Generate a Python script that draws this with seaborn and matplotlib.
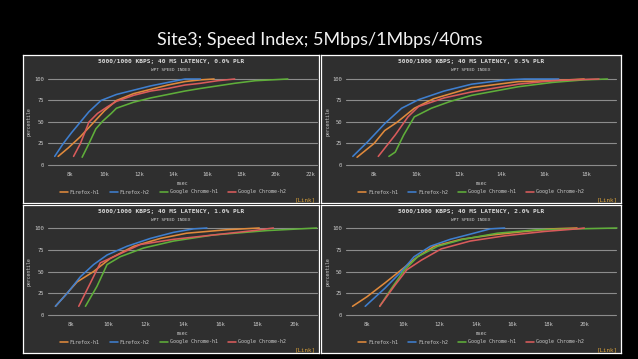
import numpy as np
import pandas as pd
import matplotlib
matplotlib.use("Agg")
import matplotlib.pyplot as plt
import seaborn as sns

W, H = 638, 359

# ---------------- data ----------------
main_title = "Site3; Speed Index; 5Mbps/1Mbps/40ms"
panel_titles = [
    "5000/1000 KBPS; 40 MS LATENCY, 0.0% PLR",
    "5000/1000 KBPS; 40 MS LATENCY, 0.5% PLR",
    "5000/1000 KBPS; 40 MS LATENCY, 1.0% PLR",
    "5000/1000 KBPS; 40 MS LATENCY, 2.0% PLR",
]
panel_subtitle = "WPT SPEED INDEX"
series_names = ["Firefox-h1", "Firefox-h2", "Google Chrome-h1", "Google Chrome-h2"]
series_colors = ["#e08a3c", "#3f7fcf", "#5fae3a", "#d95b5b"]
y_ticks = [0, 25, 50, 75, 100]
x_ticks_p1 = [8000, 10000, 12000, 14000, 16000, 18000, 20000, 22000]
x_labels_p1 = ["8k", "10k", "12k", "14k", "16k", "18k", "20k", "22k"]
x_ticks_p2 = [8000, 10000, 12000, 14000, 16000, 18000]
x_labels_p2 = ["8k", "10k", "12k", "14k", "16k", "18k"]
x_ticks_p3 = [8000, 10000, 12000, 14000, 16000, 18000, 20000]
x_labels_p3 = ["8k", "10k", "12k", "14k", "16k", "18k", "20k"]
x_ticks_p4 = [8000, 10000, 12000, 14000, 16000, 18000, 20000]
x_labels_p4 = ["8k", "10k", "12k", "14k", "16k", "18k", "20k"]

# Panel 1: 0.0% PLR
p1_ff_h1_x = [7300, 7900, 8600, 9300, 10000, 10700, 11700, 12700, 13700, 14700, 15600, 16400]
p1_ff_h1_y = [10, 20, 33, 48, 63, 75, 83, 88, 93, 97, 99, 100]
p1_ff_h2_x = [7100, 7600, 8100, 8600, 9100, 9800, 10700, 11700, 12700, 13700, 14700, 15600]
p1_ff_h2_y = [10, 25, 38, 50, 62, 75, 82, 87, 92, 96, 100, 100]
p1_gc_h1_x = [8700, 9100, 9500, 9900, 10400, 10700, 11700, 12700, 13700, 14700, 15600, 16600, 17600, 18800, 20700]
p1_gc_h1_y = [9, 25, 42, 51, 60, 66, 73, 78, 82, 86, 89, 92, 95, 98, 100]
p1_gc_h2_x = [8200, 8600, 9100, 9600, 10200, 10700, 11700, 12700, 13700, 14700, 15600, 16600, 17600]
p1_gc_h2_y = [10, 25, 50, 60, 68, 74, 81, 86, 89, 93, 95, 98, 100]

# Panel 2: 0.5% PLR
p2_ff_h1_x = [7200, 8000, 8500, 9100, 9900, 10800, 12600, 14800, 16400, 17900]
p2_ff_h1_y = [9, 25, 40, 50, 66, 77, 90, 97, 98, 100]
p2_ff_h2_x = [7000, 7700, 8500, 9300, 10100, 11300, 12600, 14200, 15100, 16700]
p2_ff_h2_y = [10, 27, 48, 66, 76, 86, 94, 99, 100, 100]
p2_gc_h1_x = [8700, 9000, 9400, 9900, 10700, 11600, 12600, 14800, 16400, 17900, 19000]
p2_gc_h1_y = [10, 15, 35, 56, 66, 74, 81, 91, 96, 99, 100]
p2_gc_h2_x = [8200, 9000, 9600, 10100, 11300, 12600, 14800, 16400, 17900, 18600]
p2_gc_h2_y = [10, 35, 56, 68, 78, 85, 94, 98, 99.5, 100]

# Panel 3: 1.0% PLR
p3_ff_h1_x = [7160, 8320, 9210, 10100, 11360, 12790, 14200, 16360, 18100]
p3_ff_h1_y = [10, 38, 50, 65, 79, 88, 94, 98, 100]
p3_ff_h2_x = [7160, 7790, 8500, 9210, 9930, 11000, 12250, 13500, 14570, 15290]
p3_ff_h2_y = [10, 25, 44, 58, 69, 79, 88, 95, 99, 100]
p3_gc_h1_x = [8770, 9390, 9930, 10640, 11890, 13500, 15640, 18500, 21180]
p3_gc_h1_y = [10, 33, 58, 67, 77, 85, 92, 97, 100]
p3_gc_h2_x = [8410, 9040, 9570, 10290, 11710, 13500, 15640, 17800, 18860]
p3_gc_h2_y = [10, 37, 60, 67, 81, 87, 92, 97, 100]

# Panel 4: 2.0% PLR
p4_ff_h1_x = [7200, 8000, 9000, 9900, 10800, 11700, 13200, 14900, 16700, 18200, 19600]
p4_ff_h1_y = [10, 21, 37, 52, 67, 79, 87, 92, 96, 99, 100]
p4_ff_h2_x = [7900, 9000, 9900, 10600, 11500, 12600, 13900, 14800, 15600]
p4_ff_h2_y = [10, 31, 50, 67, 79, 87, 94, 99, 100]
p4_gc_h1_x = [8700, 9300, 10000, 10800, 11900, 13300, 15200, 17400, 21800]
p4_gc_h1_y = [10, 29, 50, 67, 79, 87, 94, 98, 100]
p4_gc_h2_x = [8700, 9500, 10200, 11000, 12100, 13700, 15600, 17800, 19600, 20000]
p4_gc_h2_y = [10, 33, 52, 63, 76, 85, 91, 96, 99, 100]

panel_series = [
    [(p1_ff_h1_x, p1_ff_h1_y), (p1_ff_h2_x, p1_ff_h2_y), (p1_gc_h1_x, p1_gc_h1_y), (p1_gc_h2_x, p1_gc_h2_y)],
    [(p2_ff_h1_x, p2_ff_h1_y), (p2_ff_h2_x, p2_ff_h2_y), (p2_gc_h1_x, p2_gc_h1_y), (p2_gc_h2_x, p2_gc_h2_y)],
    [(p3_ff_h1_x, p3_ff_h1_y), (p3_ff_h2_x, p3_ff_h2_y), (p3_gc_h1_x, p3_gc_h1_y), (p3_gc_h2_x, p3_gc_h2_y)],
    [(p4_ff_h1_x, p4_ff_h1_y), (p4_ff_h2_x, p4_ff_h2_y), (p4_gc_h1_x, p4_gc_h1_y), (p4_gc_h2_x, p4_gc_h2_y)],
]
panel_xticks = [(x_ticks_p1, x_labels_p1), (x_ticks_p2, x_labels_p2),
                (x_ticks_p3, x_labels_p3), (x_ticks_p4, x_labels_p4)]

# ---------------- layout (pixels) ----------------
frames = [(23, 55, 319, 203), (321, 55, 621, 203), (23, 205, 319, 353), (321, 205, 621, 353)]
plots = [(48, 79, 317, 165), (346, 79, 616, 165), (48, 228, 317, 315), (346, 228, 616, 315)]
xlims = [(6710, 22400), (6680, 19400), (6760, 21200), (6840, 21750)]

sns.set_theme(style="dark")
plt.rcParams["font.family"] = ["DejaVu Sans Mono"]

fig = plt.figure(figsize=(W / 100, H / 100), dpi=100, facecolor="black")


def rect(x0, y0, x1, y1):
    return [x0 / W, 1 - y1 / H, (x1 - x0) / W, (y1 - y0) / H]


def fxy(x, y):
    return (x / W, 1 - y / H)


fig.text(*fxy(320, 40), main_title, ha="center", va="center", color="#f2f2f2",
         fontsize=13, family=["Lato", "DejaVu Sans"], fontweight="normal")

txt_col = "#c8c8c8"
grid_col = "#8c8c8c"
palette = dict(zip(series_names, series_colors))

for i in range(4):
    fx0, fy0, fx1, fy1 = frames[i]
    px0, py0, px1, py1 = plots[i]

    frame = fig.add_axes(rect(fx0, fy0, fx1, fy1))
    frame.set_facecolor("#2f2f2f")
    frame.set_xticks([])
    frame.set_yticks([])
    for s in frame.spines.values():
        s.set_color("white")
        s.set_linewidth(0.9)
        s.set_visible(True)

    ax = fig.add_axes(rect(px0, py0, px1, py1))
    ax.set_facecolor("none")

    rows = []
    for name, (xs, ys) in zip(series_names, panel_series[i]):
        for xv, yv in zip(xs, ys):
            rows.append({"msec": xv, "percentile": yv, "series": name})
    df = pd.DataFrame(rows)

    sns.lineplot(data=df, x="msec", y="percentile", hue="series", hue_order=series_names,
                 palette=palette, sort=False, estimator=None, linewidth=1.15, ax=ax)

    for ln in ax.get_lines():
        ln.set_clip_on(False)

    ax.set_xlim(*xlims[i])
    ax.set_ylim(0, 100)
    ax.set_yticks(y_ticks)
    ax.set_yticklabels([str(v) for v in y_ticks])
    ax.set_xticks(panel_xticks[i][0])
    ax.set_xticklabels(panel_xticks[i][1])
    for s in ax.spines.values():
        s.set_visible(False)
    ax.grid(False)
    for yv in y_ticks:
        ax.axhline(yv, color=grid_col, lw=0.8, zorder=0, clip_on=False)
    ax.tick_params(axis="x", colors=grid_col, labelcolor=txt_col, length=3, width=0.6,
                   direction="out", pad=2, labelsize=4)
    ax.tick_params(axis="y", length=0, pad=3, labelcolor=txt_col, labelsize=4)
    ax.set_xlabel("msec", color=txt_col, fontsize=3.5, labelpad=3)
    ax.set_ylabel("percentile", color=txt_col, fontsize=3.5, labelpad=1.5)

    cx = (fx0 + fx1) / 2
    fig.text(*fxy(cx, fy0 + 7), panel_titles[i], ha="center", va="center",
             color="#dcdcdc", fontsize=4.4, fontweight="bold")
    fig.text(*fxy(cx, fy0 + 15), panel_subtitle, ha="center", va="center",
             color="#cfcfcf", fontsize=3.2)
    fig.text(*fxy(fx1 - 3, fy1 - 3), "[Link]", ha="right", va="center",
             color="#d9a13a", fontsize=4.2)

    lcx = (px0 + px1) / 2 - 10
    sns.move_legend(ax, "center", bbox_to_anchor=fxy(lcx, py1 + 27),
                    bbox_transform=fig.transFigure, ncol=4, frameon=False, title=None,
                    fontsize=3.6, handlelength=1.6, handletextpad=0.4, columnspacing=2.0,
                    labelcolor=txt_col)

fig.savefig("out.png", dpi=100, facecolor="black")
